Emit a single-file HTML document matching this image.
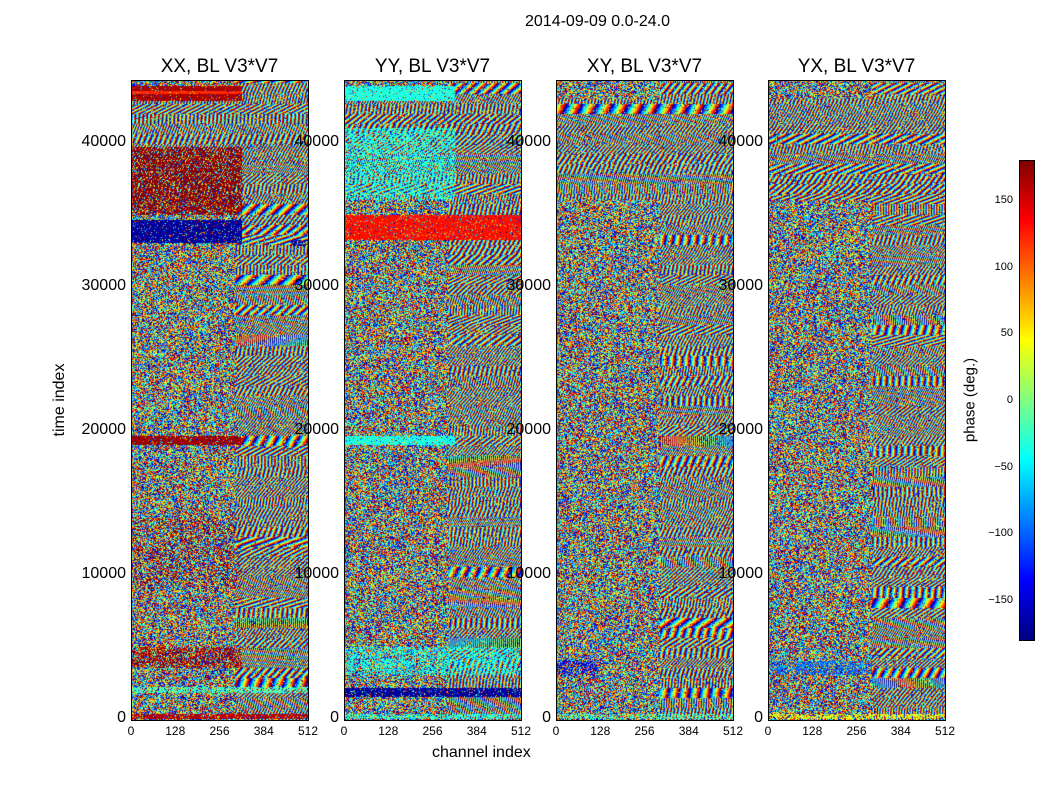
<!DOCTYPE html>
<html><head><meta charset="utf-8"><style>
body{margin:0;background:#fff;font-family:"Liberation Sans","DejaVu Sans",sans-serif}
#wrap{position:relative;width:1050px;height:800px;overflow:hidden}
.t{position:absolute;white-space:nowrap;color:#000}
canvas{position:absolute}
.frame{position:absolute;border:1px solid #000;box-sizing:border-box}
</style></head><body>
<div id="wrap">
<div class="t" style="left:525px;top:13px;font-size:16px">2014-09-09 0.0-24.0</div>
<div class="t" style="left:60px;top:400px;font-size:16px;transform:translate(-50%,-50%) rotate(-90deg)">time index</div>
<div class="t" style="left:432px;top:744px;font-size:16px">channel index</div>
<canvas id="cb" width="15" height="480" style="left:1019px;top:160px"></canvas>
<div class="frame" style="left:1019px;top:160px;width:16px;height:481px"></div>
<div class="t" style="left:970px;top:400px;font-size:15px;transform:translate(-50%,-50%) rotate(-90deg)">phase (deg.)</div>
</div>
<script>
const panelTitles=["XX, BL V3*V7","YY, BL V3*V7","XY, BL V3*V7","YX, BL V3*V7"];
const panelLefts=[131,344,556,768];
const xTicks=[0,128,256,384,512];
const yTicks=[0,10000,20000,30000,40000];
const cbTicks=[150,100,50,0,-50,-100,-150];
// solid-ish bands per panel: [t0,t1,ch0,ch1,phase,solidFraction]
const bandsXX=[[42900,43900,0,320,165,0.9],[43400,43600,0,320,120,0.9],[35000,39700,0,320,175,0.6],[33000,34600,0,320,-170,0.85],[32800,33200,460,512,-170,0.7],[19000,19600,0,320,170,0.85],[0,300,0,512,160,0.7],[1800,2200,0,512,-20,0.6],[3500,5000,0,320,170,0.45],[9000,14000,0,320,175,0.15]];
const bandsYY=[[42900,43900,0,320,-35,0.85],[36000,41000,0,320,-35,0.45],[33200,35000,0,512,130,0.85],[19000,19600,0,320,-35,0.85],[1500,2100,0,512,-170,0.8],[0,300,0,512,-30,0.6],[3000,5000,0,512,-40,0.4]];
const bandsXY=[[0,300,0,512,-20,0.5],[3000,4000,0,120,-150,0.4]];
const bandsYX=[[0,300,0,512,40,0.5],[3000,4000,0,300,-100,0.4]];
const panelBands=[bandsXX,bandsYY,bandsXY,bandsYX];

const wrap=document.getElementById('wrap');
const TOP=80,BOT=720,W=177,Y0=718,PX_PER=144/10000;
const yOf=t=>Y0-t*PX_PER;
const xOf=(left,c)=>left+c/512*W;
const cbY=v=>400-v*(400/300);
function jet(v){
  const f=x=>Math.max(0,Math.min(1,x));
  return [f(1.5-Math.abs(4*v-3)),f(1.5-Math.abs(4*v-2)),f(1.5-Math.abs(4*v-1))].map(x=>Math.round(x*255));
}
function hsh(a,b){let h=(a*374761393+b*668265263)|0;h=(h^(h>>>13))*1274126177|0;return ((h^(h>>>16))>>>0)/4294967296;}
panelBands.forEach((bands,pi)=>{
  const left=panelLefts[pi];
  const cv=document.createElement('canvas');
  cv.width=W;cv.height=BOT-TOP;cv.style.left=left+'px';cv.style.top=TOP+'px';
  
  
  wrap.appendChild(cv);
  const ctx=cv.getContext('2d');const im=ctx.createImageData(W,BOT-TOP);
  for(let py=0;py<BOT-TOP;py++){
    const t=(Y0-(py+TOP))/PX_PER;
    const band=Math.floor(t/700);
    for(let px=0;px<W;px++){
      const c=px/W*512;
      let v;
      const n=hsh(px+pi*1000,py);
      if(c>300 || (t>36000 && t<43000)){
        const fr=0.02+0.15*hsh(band,pi+7);
        v=((px*fr*3+py*0.3*hsh(band,pi+3)+hsh(band,pi)*5)%1+1)%1;
        if(n<0.15)v=hsh(py,px+pi*33);
      } else v=n;
      for(const b of bands){
        if(t>=b[0]&&t<b[1]&&c>=b[2]&&c<b[3]&&hsh(px*3+pi,py*7)<b[5]){v=(b[4]+180)/360;}
      }
      const col=jet(v);const k=(py*W+px)*4;
      im.data[k]=col[0];im.data[k+1]=col[1];im.data[k+2]=col[2];im.data[k+3]=255;
    }
  }
  ctx.putImageData(im,0,0);
  const fr=document.createElement('div');fr.className='frame';
  fr.style.cssText=`left:${left}px;top:${TOP}px;width:${W+1}px;height:${BOT-TOP+1}px`;
  
  
  wrap.appendChild(fr);
  const ti=document.createElement('div');ti.className='t';ti.textContent=panelTitles[pi];
  ti.style.cssText=`left:${left+W/2}px;top:56px;font-size:19px;transform:translateX(-50%)`;
  
  
  wrap.appendChild(ti);
  xTicks.forEach(v=>{
    const l=document.createElement('div');l.className='t';l.textContent=v;
    l.style.cssText=`left:${xOf(left,v)}px;top:724px;font-size:12px;transform:translateX(-50%)`;
    
    
    wrap.appendChild(l);
  });
  yTicks.forEach(v=>{
    const l=document.createElement('div');l.className='t';l.textContent=v;
    l.style.cssText=`right:${1050-left+5}px;top:${yOf(v)}px;font-size:16px;transform:translateY(-50%)`;
    
    
    wrap.appendChild(l);
  });
});
const cb=document.getElementById('cb').getContext('2d');
for(let y=0;y<480;y++){const c=jet(1-y/479);cb.fillStyle=`rgb(${c})`;cb.fillRect(0,y,15,1);}
cbTicks.forEach(v=>{
  const yy=cbY(v);
  const l=document.createElement('div');l.className='t';l.textContent=v<0?'\u2212'+(-v):v;
  l.style.cssText=`right:${1050-1013}px;top:${yy}px;font-size:11px;transform:translateY(-50%)`;
  
  
  wrap.appendChild(l);
});
</script>
</body></html>
